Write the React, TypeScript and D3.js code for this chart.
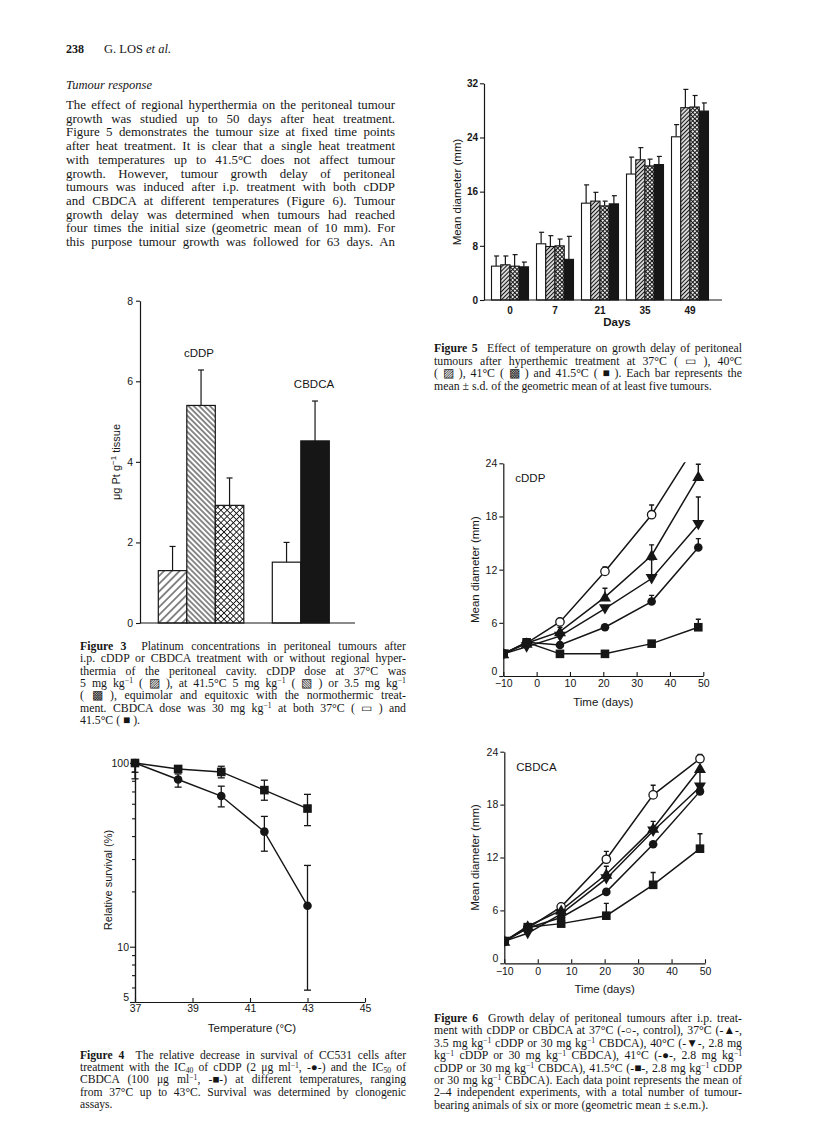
import * as d3 from 'd3';
import React, { useRef, useEffect, useLayoutEffect } from 'react';

const SANS = '"Liberation Sans", Arial, sans-serif';
const SERIF = '"Liberation Serif", "Times New Roman", serif';
const INK = '#161616';

// --------------------------------------------------------
// page text

const pageNumber = '238';
const runningHead = 'G. LOS *et al.*';
const sectionHead = 'Tumour response';
const bodyLines = [
  'The effect of regional hyperthermia on the peritoneal tumour',
  'growth was studied up to 50 days after heat treatment.',
  'Figure 5 demonstrates the tumour size at fixed time points',
  'after heat treatment. It is clear that a single heat treatment',
  'with temperatures up to 41.5°C does not affect tumour',
  'growth. However, tumour growth delay of peritoneal',
  'tumours was induced after i.p. treatment with both cDDP',
  'and CBDCA at different temperatures (Figure 6). Tumour',
  'growth delay was determined when tumours had reached',
  'four times the initial size (geometric mean of 10 mm). For',
  'this purpose tumour growth was followed for 63 days. An',
];

const fig3Caption = [
  '**Figure 3**  Platinum concentrations in peritoneal tumours after',
  'i.p. cDDP or CBDCA treatment with or without regional hyper-',
  'thermia of the peritoneal cavity. cDDP dose at 37°C was',
  '5 mg kg^{−1} ( ▨ ), at 41.5°C 5 mg kg^{−1} ( ▧ ) or 3.5 mg kg^{−1}',
  '( ▩ ), equimolar and equitoxic with the normothermic treat-',
  'ment. CBDCA dose was 30 mg kg^{−1} at both 37°C ( ▭ ) and',
  '41.5°C ( ■ ).',
];

const fig4Caption = [
  '**Figure 4**  The relative decrease in survival of CC531 cells after',
  'treatment with the IC_{40} of cDDP (2 μg ml^{−1}, -●-) and the IC_{50} of',
  'CBDCA (100 μg ml^{−1}, -■-) at different temperatures, ranging',
  'from 37°C up to 43°C. Survival was determined by clonogenic',
  'assays.',
];

const fig5Caption = [
  '**Figure 5**  Effect of temperature on growth delay of peritoneal',
  'tumours after hyperthemic treatment at 37°C ( ▭ ), 40°C',
  '( ▨ ), 41°C ( ▩ ) and 41.5°C ( ■ ). Each bar represents the',
  'mean ± s.d. of the geometric mean of at least five tumours.',
];

const fig6Caption = [
  '**Figure 6**  Growth delay of peritoneal tumours after i.p. treat-',
  'ment with cDDP or CBDCA at 37°C (-○-, control), 37°C (-▲-,',
  '3.5 mg kg^{−1} cDDP or 30 mg kg^{−1} CBDCA), 40°C (-▼-, 2.8 mg',
  'kg^{−1} cDDP or 30 mg kg^{−1} CBDCA), 41°C (-●-, 2.8 mg kg^{−1}',
  'cDDP or 30 mg kg^{−1} CBDCA), 41.5°C (-■-, 2.8 mg kg^{−1} cDDP',
  'or 30 mg kg^{−1} CBDCA). Each data point represents the mean of',
  '2–4 independent experiments, with a total number of tumour-',
  'bearing animals of six or more (geometric mean ± s.e.m.).',
];

// --------------------------------------------------------
// Figure 3 data (μg Pt per g tissue)
const f3Bars = ['cddp37', 'cddp415a', 'cddp415b', 'gap', 'cbdca37', 'cbdca415'];
const f3Values = [1.3, 5.4, 2.92, 0, 1.51, 4.52];
const f3Sd = [0.6, 0.88, 0.68, 0, 0.49, 0.99];
const f3Ticks = [0, 2, 4, 6, 8];

// Figure 4 data (relative survival, %)
const f4Temp = [37, 38.5, 40, 41.5, 43];
const f4Cddp = [100, 81.3, 66.1, 42.3, 16.7];
const f4CddpLo = [82, 73.9, 57.7, 33.1, 5.8];
const f4CddpHi = [100, 87.2, 74.8, 51.2, 27.7];
const f4Cbdca = [100, 92.8, 89.4, 71.2, 56.5];
const f4CbdcaLo = [89, 92.8, 83, 62.7, 45.6];
const f4CbdcaHi = [100, 92.8, 96, 80.6, 67.5];
const f4XTicks = [37, 39, 41, 43, 45];
const f4YMajor = [5, 10, 100];
const f4YMinor = [6, 7, 8, 9, 20, 30, 40, 50, 60, 70, 80, 90];

// Figure 5 data (mean diameter, mm)
const f5Days = ['0', '7', '21', '35', '49'];
const f5Temps = ['37', '40', '41', '41.5'];
const f5Mean37 = [5.0, 8.3, 14.3, 18.6, 24.1];
const f5Mean40 = [5.2, 7.9, 14.6, 20.7, 28.4];
const f5Mean41 = [5.0, 8.0, 13.9, 19.8, 28.5];
const f5Mean415 = [4.9, 6.0, 14.2, 20.0, 27.9];
const f5Sd37 = [1.5, 1.7, 2.7, 2.5, 1.8];
const f5Sd40 = [1.3, 1.6, 1.3, 1.8, 2.7];
const f5Sd41 = [1.7, 1.0, 0.7, 1.0, 1.7];
const f5Sd415 = [0.7, 3.4, 1.2, 1.2, 1.2];
const f5Ticks = [0, 8, 16, 24, 32];

// Figure 6 data (mean diameter, mm)
const f6Days = [-10, -3, 7, 20.5, 34.5, 48.5];
const f6XTicks = [-10, 0, 10, 20, 30, 40, 50];
const f6YTicks = [0, 6, 12, 18, 24];
const markerKinds = ['open', 'up', 'down', 'dot', 'square'];

const cddpControl = [2.5, 3.7, 6.1, 11.8, 18.2, 26.5];
const cddpT37 = [2.5, 3.7, 5.0, 8.9, 13.6, 22.5];
const cddpT40 = [2.5, 3.3, 4.5, 7.6, 11.0, 17.1];
const cddpT41 = [2.5, 3.8, 3.5, 5.5, 8.4, 14.5];
const cddpT415 = [2.5, 3.8, 2.5, 2.5, 3.65, 5.5];
const cddpControlErr = [0, 0, 0, 0.5, 1.1, 0];
const cddpT37Err = [0, 0, 0.5, 1.0, 1.2, 1.4];
const cddpT40Err = [0, 0, 0, 0, 2.1, 3.1];
const cddpT41Err = [0, 0, 0, 0, 0.7, 1.0];
const cddpT415Err = [0, 0.4, 0, 0, 0, 0.9];

const cbdcaControl = [2.5, 4.0, 6.4, 11.8, 19.1, 23.2];
const cbdcaT37 = [2.5, 4.2, 6.0, 10.1, 15.3, 22.1];
const cbdcaT40 = [2.5, 3.4, 5.6, 9.6, 15.0, 20.0];
const cbdcaT41 = [2.5, 4.0, 5.2, 8.1, 13.5, 19.5];
const cbdcaT415 = [2.5, 4.1, 4.5, 5.4, 8.9, 13.0];
const cbdcaControlErr = [0, 0, 0, 0.9, 1.1, 0.5];
const cbdcaT37Err = [0, 0, 0, 0.9, 0.8, 0];
const cbdcaT40Err = [0, 0, 0, 0, 0, 2.0];
const cbdcaT41Err = [0, 0, 0, 0, 0, 0];
const cbdcaT415Err = [0, 0, 0, 1.4, 1.4, 1.7];

// --------------------------------------------------------
// text helpers: **bold**, *italic*, ^{sup}, _{sub}

const TOKEN = /(\*\*[^*]+\*\*|\*[^*]+\*|\^\{[^}]+\}|_\{[^}]+\})/g;

function RichLine({ x, y, width, text, size, justify }: any) {
  const ref = useRef<SVGTextElement>(null);

  useLayoutEffect(() => {
    const el = ref.current;
    if (!el) return;
    el.style.wordSpacing = '0px';
    if (!justify) return;
    const natural = el.getComputedTextLength();
    const spaces = (el.textContent || '').split(' ').length - 1;
    if (spaces > 0) el.style.wordSpacing = `${(width - natural) / spaces}px`;
  });

  let shift = 0;
  const parts = text.split(TOKEN).filter((p: string) => p !== '');
  return (
    <text ref={ref} x={x} y={y} fontFamily={SERIF} fontSize={size} fill={INK} style={{ whiteSpace: 'pre' }}>
      {parts.map((p: string, i: number) => {
        let content = p, weight, fstyle, fs, target = 0;
        if (p.startsWith('**')) { content = p.slice(2, -2); weight = 'bold'; }
        else if (p.startsWith('*')) { content = p.slice(1, -1); fstyle = 'italic'; }
        else if (p.startsWith('^{')) { content = p.slice(2, -1); target = -size * 0.3; fs = size * 0.66; }
        else if (p.startsWith('_{')) { content = p.slice(2, -1); target = size * 0.12; fs = size * 0.66; }
        const dy = target - shift;
        shift = target;
        return (
          <tspan key={i} dy={dy !== 0 ? dy : undefined} fontWeight={weight} fontStyle={fstyle} fontSize={fs}>
            {content}
          </tspan>
        );
      })}
    </text>
  );
}

function TextBlock({ x, y, width, lines, size, leading, justifyLast }: any) {
  return (
    <g>
      {lines.map((t: string, i: number) => (
        <RichLine key={i} x={x} y={y + i * leading} width={width} text={t} size={size}
          justify={justifyLast || i < lines.length - 1} />
      ))}
    </g>
  );
}

// styles a d3 axis group after it has been called
const styleAxis = (g: any, size = 10.5, weight = 'normal') => {
  g.attr('font-family', SANS).attr('font-size', size).attr('font-weight', weight);
  g.selectAll('.domain').attr('stroke', INK).attr('stroke-width', 1.2);
  g.selectAll('line').attr('stroke', INK).attr('stroke-width', 1.1);
  g.selectAll('text').attr('fill', INK);
};

// --------------------------------------------------------
// markers

const triPath = d3.symbol(d3.symbolTriangle, 62)() as string;

function Marker({ kind, cx, cy }: any) {
  if (kind === 'open') return <circle cx={cx} cy={cy} r={4.2} fill="#fff" stroke={INK} strokeWidth={1.3} />;
  if (kind === 'dot') return <circle cx={cx} cy={cy} r={4.3} fill={INK} />;
  if (kind === 'square') return <rect x={cx - 4.3} y={cy - 4.3} width={8.6} height={8.6} fill={INK} />;
  if (kind === 'up') return <path d={triPath} transform={`translate(${cx},${cy + 1})`} fill={INK} />;
  return <path d={triPath} transform={`translate(${cx},${cy - 1}) rotate(180)`} fill={INK} />;
}

// --------------------------------------------------------
// Figure 3: grouped platinum bars

function Figure3() {
  const axRef = useRef<SVGGElement>(null);
  const x = d3.scaleBand().domain(f3Bars).range([158.3, 329.3]);
  const y = d3.scaleLinear().domain([0, 8]).range([623, 300.7]);
  const fills = ['url(#f3a)', 'url(#f3b)', 'url(#f3c)', 'none', '#fff', INK];

  useEffect(() => {
    const g = d3.select(axRef.current);
    g.selectAll('*').remove();
    const ya = g.append('g').attr('transform', 'translate(140,0)')
      .call(d3.axisLeft(y).tickValues(f3Ticks).tickSize(4).tickSizeOuter(0).tickPadding(3));
    styleAxis(ya, 10.5);
  });

  return (
    <g>
      {f3Bars.map((b, i) => b === 'gap' ? null : (
        <g key={b}>
          <line x1={x(b)! + x.bandwidth() / 2} x2={x(b)! + x.bandwidth() / 2}
            y1={y(f3Values[i])} y2={y(f3Values[i] + f3Sd[i])} stroke={INK} strokeWidth={1.2} />
          <line x1={x(b)! + x.bandwidth() / 2 - 3} x2={x(b)! + x.bandwidth() / 2 + 3}
            y1={y(f3Values[i] + f3Sd[i])} y2={y(f3Values[i] + f3Sd[i])} stroke={INK} strokeWidth={1.2} />
          <rect x={x(b)} y={y(f3Values[i])} width={x.bandwidth()} height={y(0) - y(f3Values[i])}
            fill={fills[i]} stroke={INK} strokeWidth={1.2} />
        </g>
      ))}
      <line x1={140} x2={355} y1={y(0)} y2={y(0)} stroke={INK} strokeWidth={1.2} />
      <g ref={axRef} />
      <text x={199} y={357} textAnchor="middle" fontFamily={SANS} fontSize={11.5} fill={INK}>cDDP</text>
      <text x={314} y={388} textAnchor="middle" fontFamily={SANS} fontSize={11.5} fill={INK}>CBDCA</text>
      <text transform="translate(120,462) rotate(-90)" textAnchor="middle" fontFamily={SANS} fontSize={11} fill={INK}>
        μg Pt g<tspan dy={-4} fontSize={8}>−1</tspan><tspan dy={4}> tissue</tspan>
      </text>
    </g>
  );
}

// --------------------------------------------------------
// Figure 4: survival vs temperature (log scale)

function Figure4() {
  const axRef = useRef<SVGGElement>(null);
  const x = d3.scaleLinear().domain([37, 45]).range([135, 365]);
  const y = d3.scaleLog().domain([5, 100]).range([1002, 763]);
  const line = d3.line<number>().x((d, i) => x(f4Temp[i])).y(d => y(d));
  const series = [
    { v: f4Cddp, lo: f4CddpLo, hi: f4CddpHi, kind: 'dot' },
    { v: f4Cbdca, lo: f4CbdcaLo, hi: f4CbdcaHi, kind: 'square' },
  ];

  useEffect(() => {
    const g = d3.select(axRef.current);
    g.selectAll('*').remove();
    const minor = g.append('g').attr('transform', 'translate(135,0)')
      .call(d3.axisLeft(y).tickValues(f4YMinor).tickSize(3).tickSizeOuter(0).tickFormat(() => ''));
    styleAxis(minor);
    const major = g.append('g').attr('transform', 'translate(135,0)')
      .call(d3.axisLeft(y).tickValues(f4YMajor).tickSize(5).tickSizeOuter(0).tickPadding(1)
        .tickFormat(d3.format('d')));
    styleAxis(major, 10.5);
    major.selectAll('.tick').filter((d: any) => d === 5).select('text').attr('dy', '-0.1em');
    const xa = g.append('g').attr('transform', 'translate(0,1002)')
      .call(d3.axisBottom(x).tickValues(f4XTicks).tickSizeInner(-4).tickSizeOuter(0).tickPadding(3));
    styleAxis(xa, 10.5);
  });

  return (
    <g>
      {series.map((s, si) => (
        <g key={si}>
          <path d={line(s.v) as string} fill="none" stroke={INK} strokeWidth={1.4} />
          {s.v.map((v, i) => (
            <g key={i}>
              <line x1={x(f4Temp[i])} x2={x(f4Temp[i])} y1={y(s.lo[i])} y2={y(s.hi[i])} stroke={INK} strokeWidth={1.3} />
              <line x1={x(f4Temp[i]) - 3.5} x2={x(f4Temp[i]) + 3.5} y1={y(s.lo[i])} y2={y(s.lo[i])} stroke={INK} strokeWidth={1.3} />
              <line x1={x(f4Temp[i]) - 3.5} x2={x(f4Temp[i]) + 3.5} y1={y(s.hi[i])} y2={y(s.hi[i])} stroke={INK} strokeWidth={1.3} />
              <Marker kind={s.kind} cx={x(f4Temp[i])} cy={y(v)} />
            </g>
          ))}
        </g>
      ))}
      <g ref={axRef} />
      <text transform="translate(112,880) rotate(-90)" textAnchor="middle" fontFamily={SANS} fontSize={11} fill={INK}>
        Relative survival (%)
      </text>
      <text x={252} y={1032} textAnchor="middle" fontFamily={SANS} fontSize={11.5} fill={INK}>Temperature (°C)</text>
    </g>
  );
}

// --------------------------------------------------------
// Figure 5: grouped bars by day

function Figure5() {
  const axRef = useRef<SVGGElement>(null);
  const x0 = d3.scaleBand().domain(f5Days).range([487.5, 712.5]).paddingInner(0.178).paddingOuter(0.089);
  const x1 = d3.scaleBand().domain(f5Temps).range([0, x0.bandwidth()]);
  const y = d3.scaleLinear().domain([0, 32]).range([300, 83.3]);
  const means = [f5Mean37, f5Mean40, f5Mean41, f5Mean415];
  const sds = [f5Sd37, f5Sd40, f5Sd41, f5Sd415];
  const fills = ['#fff', 'url(#f5hatch)', 'url(#f5cross)', INK];

  useEffect(() => {
    const g = d3.select(axRef.current);
    g.selectAll('*').remove();
    const ya = g.append('g').attr('transform', 'translate(484,0)')
      .call(d3.axisLeft(y).tickValues(f5Ticks).tickSize(4).tickSizeOuter(0).tickPadding(2));
    styleAxis(ya, 10, 'bold');
    const xa = g.append('g').attr('transform', 'translate(0,300)')
      .call(d3.axisBottom(x0).tickSize(0).tickPadding(7));
    styleAxis(xa, 10, 'bold');
    xa.select('.domain').remove();
  });

  return (
    <g>
      {f5Days.map((day, di) => (
        <g key={day} transform={`translate(${x0(day)},0)`}>
          {f5Temps.map((t, ti) => {
            const v = means[ti][di];
            const top = v + sds[ti][di];
            const cx = x1(t)! + x1.bandwidth() / 2;
            return (
              <g key={t}>
                <line x1={cx} x2={cx} y1={y(v)} y2={y(top)} stroke={INK} strokeWidth={1.2} />
                <line x1={cx - 2} x2={cx + 3} y1={y(top)} y2={y(top)} stroke={INK} strokeWidth={1.2} />
                <rect x={x1(t)} y={y(v)} width={x1.bandwidth()} height={y(0) - y(v)}
                  fill={fills[ti]} stroke={INK} strokeWidth={1.1} />
              </g>
            );
          })}
        </g>
      ))}
      <line x1={484} x2={722} y1={300} y2={300} stroke={INK} strokeWidth={1.2} />
      <g ref={axRef} />
      <text transform="translate(461,192) rotate(-90)" textAnchor="middle" fontFamily={SANS} fontSize={11.5} fill={INK}>
        Mean diameter (mm)
      </text>
      <text x={617} y={326} textAnchor="middle" fontFamily={SANS} fontSize={11.5} fontWeight="bold" fill={INK}>Days</text>
    </g>
  );
}

// --------------------------------------------------------
// Figure 6: growth curves (one panel per drug)

function GrowthPanel({ id, label, xr, yr, series, errs }: any) {
  const axRef = useRef<SVGGElement>(null);
  const x = d3.scaleLinear().domain([-10, 50]).range(xr);
  const y = d3.scaleLinear().domain([0, 24]).range(yr);
  const line = d3.line<number>().x((d, i) => x(f6Days[i])).y(d => y(d));

  useEffect(() => {
    const g = d3.select(axRef.current);
    g.selectAll('*').remove();
    const ya = g.append('g').attr('transform', `translate(${xr[0]},0)`)
      .call(d3.axisLeft(y).tickValues(f6YTicks).tickSize(4).tickSizeOuter(0).tickPadding(2));
    styleAxis(ya, 10.5);
    // the zero label sits a little above the corner, clear of "−10"
    ya.selectAll('.tick').filter((d: any) => d === 0).select('text').attr('dy', '-0.15em');
    const xa = g.append('g').attr('transform', `translate(0,${yr[0]})`)
      .call(d3.axisBottom(x).tickValues(f6XTicks).tickSizeInner(-4).tickSizeOuter(0).tickPadding(4));
    styleAxis(xa, 10.5);
  });

  return (
    <g>
      <defs>
        <clipPath id={id}>
          <rect x={xr[0]} y={yr[1] - 1} width={xr[1] - xr[0] + 10} height={yr[0] - yr[1] + 10} />
        </clipPath>
      </defs>
      <g clipPath={`url(#${id})`}>
        {series.map((s: number[], si: number) => (
          <path key={si} d={line(s) as string} fill="none" stroke={INK} strokeWidth={1.5} />
        ))}
        {series.map((s: number[], si: number) => s.map((v, i) => errs[si][i] > 0 ? (
          <g key={`${si}-${i}`}>
            <line x1={x(f6Days[i])} x2={x(f6Days[i])} y1={y(v)} y2={y(v + errs[si][i])} stroke={INK} strokeWidth={1.4} />
            <line x1={x(f6Days[i]) - 2.5} x2={x(f6Days[i]) + 2.5} y1={y(v + errs[si][i])} y2={y(v + errs[si][i])}
              stroke={INK} strokeWidth={1.4} />
          </g>
        ) : null))}
        {series.map((s: number[], si: number) => s.map((v, i) => (
          <Marker key={`${si}-${i}`} kind={markerKinds[si]} cx={x(f6Days[i])} cy={y(v)} />
        )))}
      </g>
      <g ref={axRef} />
      <text x={xr[0] + 12} y={yr[1] + 19} fontFamily={SANS} fontSize={11.5} fill={INK}>{label}</text>
      <text transform={`translate(479,${(yr[0] + yr[1]) / 2}) rotate(-90)`} textAnchor="middle"
        fontFamily={SANS} fontSize={11.5} fill={INK}>Mean diameter (mm)</text>
      <text x={(xr[0] + xr[1]) / 2} y={yr[0] + 30} textAnchor="middle" fontFamily={SANS} fontSize={11.5} fill={INK}>
        Time (days)
      </text>
    </g>
  );
}

// --------------------------------------------------------

function Patterns() {
  return (
    <defs>
      <pattern id="f5hatch" patternUnits="userSpaceOnUse" width={2.9} height={2.9} patternTransform="rotate(45)">
        <rect width={2.9} height={2.9} fill="#fff" />
        <line x1={1.45} y1={0} x2={1.45} y2={2.9} stroke={INK} strokeWidth={1.3} />
      </pattern>
      <pattern id="f5cross" patternUnits="userSpaceOnUse" width={3} height={3} patternTransform="rotate(45)">
        <rect width={3} height={3} fill="#fff" />
        <line x1={1.5} y1={0} x2={1.5} y2={3} stroke={INK} strokeWidth={1.1} />
        <line x1={0} y1={1.5} x2={3} y2={1.5} stroke={INK} strokeWidth={1.1} />
      </pattern>
      <pattern id="f3a" patternUnits="userSpaceOnUse" width={5.5} height={5.5} patternTransform="rotate(45)">
        <rect width={5.5} height={5.5} fill="#fff" />
        <line x1={2.75} y1={0} x2={2.75} y2={5.5} stroke={INK} strokeWidth={1} />
      </pattern>
      <pattern id="f3b" patternUnits="userSpaceOnUse" width={3.8} height={3.8} patternTransform="rotate(-45)">
        <rect width={3.8} height={3.8} fill="#fff" />
        <line x1={1.9} y1={0} x2={1.9} y2={3.8} stroke={INK} strokeWidth={1} />
      </pattern>
      <pattern id="f3c" patternUnits="userSpaceOnUse" width={4.4} height={4.4} patternTransform="rotate(45)">
        <rect width={4.4} height={4.4} fill="#fff" />
        <line x1={2.2} y1={0} x2={2.2} y2={4.4} stroke={INK} strokeWidth={0.9} />
        <line x1={0} y1={2.2} x2={4.4} y2={2.2} stroke={INK} strokeWidth={0.9} />
      </pattern>
    </defs>
  );
}

export default function App() {
  const cddpSeries = [cddpControl, cddpT37, cddpT40, cddpT41, cddpT415];
  const cddpErrs = [cddpControlErr, cddpT37Err, cddpT40Err, cddpT41Err, cddpT415Err];
  const cbdcaSeries = [cbdcaControl, cbdcaT37, cbdcaT40, cbdcaT41, cbdcaT415];
  const cbdcaErrs = [cbdcaControlErr, cbdcaT37Err, cbdcaT40Err, cbdcaT41Err, cbdcaT415Err];

  return (
    <svg width={816} height={1137} style={{ position: 'absolute', left: 0, top: 0, background: '#fff' }}>
      <Patterns />
      <rect width={816} height={1137} fill="#fff" />

      {/* running head and body text */}
      <text x={66} y={53} fontFamily={SERIF} fontSize={12} fontWeight="bold" fill={INK}>{pageNumber}</text>
      <RichLine x={104} y={53} width={0} text={runningHead} size={12.5} justify={false} />
      <text x={66} y={89} fontFamily={SERIF} fontSize={12.5} fontStyle="italic" fill={INK}>{sectionHead}</text>
      <TextBlock x={66} y={109} width={329} lines={bodyLines} size={12.9} leading={13.7} justifyLast />

      <Figure5 />
      <TextBlock x={434} y={352} width={308} lines={fig5Caption} size={11.8} leading={12.5} />

      <Figure3 />
      <TextBlock x={80} y={650} width={326} lines={fig3Caption} size={11.8} leading={12.3} />

      <GrowthPanel id="clipCddp" label="cDDP" xr={[503.3, 703.3]} yr={[676, 463.3]}
        series={cddpSeries} errs={cddpErrs} />
      <GrowthPanel id="clipCbdca" label="CBDCA" xr={[504.3, 705]} yr={[963.3, 751.7]}
        series={cbdcaSeries} errs={cbdcaErrs} />

      <Figure4 />
      <TextBlock x={80} y={1059} width={326} lines={fig4Caption} size={11.6} leading={12.2} />
      <TextBlock x={434} y={1022} width={308} lines={fig6Caption} size={11.8} leading={12.4} />
    </svg>
  );
}
